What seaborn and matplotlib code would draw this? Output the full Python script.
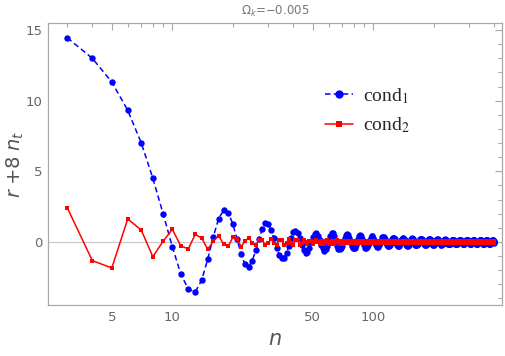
import pandas as pd
import matplotlib
matplotlib.use('Agg')
import matplotlib.pyplot as plt
import seaborn as sns
from matplotlib.ticker import NullFormatter

# n runs over the integers 3..400
n = list(range(3, 401))

# cond_1 (blue, dashed, circles)
cond1 = [
    14.46, 13.00, 11.32, 9.32, 7.03, 4.51, 2.00, -0.33, -2.24, -3.33,
    -3.54, -2.71, -1.22, 0.38, 1.65, 2.24, 2.07, 1.27, 0.19, -0.85,
    -1.58, -1.75, -1.32, -0.59, 0.20, 0.90, 1.32, 1.28, 0.85, 0.25,
    -0.40, -0.90, -1.15, -1.10, -0.75, -0.30, 0.25, 0.70, 0.78, 0.60,
    0.25, -0.20, -0.60, -0.80, -0.70, -0.40, 0.00, 0.35, 0.58, 0.62,
    0.45, 0.15, -0.18, -0.45,
    -0.62, -0.52, -0.26, 0.09, 0.40, 0.60, 0.60, 0.40, 0.09, -0.26, -0.52,
    -0.53, -0.46, -0.27, 0.00, 0.27, 0.46, 0.53, 0.46, 0.27, 0.00, -0.27, -0.46,
    -0.46, -0.40, -0.23, 0.00, 0.23, 0.40, 0.46, 0.40, 0.23, 0.00, -0.23, -0.40,
    -0.40, -0.36, -0.23, -0.05, 0.14, 0.30, 0.39, 0.39, 0.30, 0.14, -0.05, -0.23, -0.36,
    -0.35, -0.32, -0.22, -0.08, 0.08, 0.22, 0.32, 0.35, 0.32, 0.22, 0.08, -0.08, -0.22, -0.32,
    -0.31, -0.28, -0.19, -0.07, 0.07, 0.19, 0.28, 0.31, 0.28, 0.19, 0.07, -0.07, -0.19, -0.28,
    -0.28, -0.25, -0.19, -0.09, 0.03, 0.14, 0.23, 0.27, 0.27, 0.23, 0.14, 0.03, -0.09, -0.19, -0.25,
    -0.25, -0.23, -0.18, -0.10, 0.00, 0.10, 0.18, 0.23, 0.25, 0.23, 0.18, 0.10, 0.00, -0.10, -0.18, -0.23,
    -0.23, -0.21, -0.17, -0.10, -0.02, 0.06, 0.14, 0.20, 0.23, 0.23, 0.20, 0.14, 0.06, -0.02, -0.10, -0.17, -0.21,
    -0.21, -0.20, -0.16, -0.11, -0.04, 0.04, 0.11, 0.16, 0.20, 0.21, 0.20, 0.16, 0.11, 0.04, -0.04, -0.11, -0.16, -0.20,
    -0.19, -0.18, -0.15, -0.10, -0.05, 0.02, 0.08, 0.13, 0.17, 0.19, 0.19, 0.17, 0.13, 0.08, 0.02, -0.05, -0.10, -0.15, -0.18,
    -0.18, -0.17, -0.15, -0.11, -0.06, 0.00, 0.06, 0.11, 0.15, 0.17, 0.18, 0.17, 0.15, 0.11, 0.06, 0.00, -0.06, -0.11, -0.15, -0.17,
    -0.17, -0.16, -0.14, -0.11, -0.06, -0.01, 0.04, 0.09, 0.12, 0.15, 0.17, 0.17, 0.15, 0.12, 0.09, 0.04, -0.01, -0.06, -0.11, -0.14, -0.16,
    -0.16, -0.15, -0.13, -0.10, -0.07, -0.02, 0.02, 0.07, 0.10, 0.13, 0.15, 0.16, 0.15, 0.13, 0.10, 0.07, 0.02, -0.02, -0.07, -0.10, -0.13, -0.15,
    -0.15, -0.14, -0.13, -0.10, -0.07, -0.03, 0.01, 0.05, 0.09, 0.12, 0.14, 0.15, 0.15, 0.14, 0.12, 0.09, 0.05, 0.01, -0.03, -0.07, -0.10, -0.13, -0.14,
    -0.14, -0.14, -0.12, -0.10, -0.07, -0.04, 0.00, 0.04, 0.07, 0.10, 0.12, 0.14, 0.14, 0.14, 0.12, 0.10, 0.07, 0.04, 0.00, -0.04, -0.07, -0.10, -0.12, -0.14,
    -0.13, -0.13, -0.11, -0.09, -0.07, -0.04, -0.01, 0.02, 0.06, 0.08, 0.11, 0.12, 0.13, 0.13, 0.12, 0.11, 0.08, 0.06, 0.02, -0.01, -0.04, -0.07, -0.09, -0.11, -0.13,
    -0.12, -0.12, -0.11, -0.09, -0.07, -0.04, -0.01, 0.01, 0.04, 0.07, 0.09, 0.11, 0.12, 0.12, 0.12, 0.11, 0.09, 0.07, 0.04, 0.01, -0.01, -0.04, -0.07, -0.09, -0.11, -0.12,
    -0.11, -0.11, -0.10, -0.08, -0.06, -0.04, -0.01, 0.01, 0.04, 0.06, 0.08, 0.10, 0.11, 0.11, 0.11, 0.10, 0.08, 0.06, 0.04, 0.01, -0.01, -0.04,
]

# cond_2 (red, solid, squares)
cond2 = [
    2.43, -1.32, -1.84, 1.63, 0.85, -1.04, 0.05, 0.90, -0.26, -0.50,
    0.54, 0.28, -0.52, 0.05, 0.45, -0.16, -0.30, 0.33, 0.19, -0.33,
    0.05, 0.30, -0.06, -0.23, 0.16, 0.16, -0.23, -0.05,
    0.20, -0.04, -0.18, 0.13, 0.12, -0.18, -0.04,
    0.20, -0.04, -0.18, 0.13, 0.12, -0.18, -0.04,
    0.15, -0.03, -0.14, 0.09, 0.09, -0.14, -0.03,
    0.15, -0.03, -0.14, 0.09, 0.09, -0.14, -0.03,
    0.12, -0.03, -0.11, 0.08, 0.07, -0.11, -0.03,
    0.12, -0.03, -0.11, 0.08, 0.07, -0.11, -0.03,
    0.10, -0.02, -0.09, 0.06, 0.06, -0.09, -0.02,
    0.10, -0.02, -0.09, 0.06, 0.06, -0.09, -0.02,
    0.10, -0.02, -0.09, 0.06, 0.06, -0.09, -0.02,
    0.08, -0.02, -0.07, 0.05, 0.05, -0.07, -0.02,
    0.08, -0.02, -0.07, 0.05, 0.05, -0.07, -0.02,
    0.08, -0.02, -0.07, 0.05, 0.05, -0.07, -0.02,
    0.08, -0.02, -0.07, 0.05, 0.05, -0.07, -0.02,
    0.08, -0.02, -0.07, 0.05, 0.05, -0.07, -0.02,
    0.08, -0.02, -0.07, 0.05, 0.05, -0.07, -0.02,
    0.08, -0.02, -0.07, 0.05, 0.05, -0.07, -0.02,
    0.07, -0.02, -0.06, 0.04, 0.04, -0.06, -0.01,
    0.07, -0.02, -0.06, 0.04, 0.04, -0.06, -0.01,
    0.07, -0.02, -0.06, 0.04, 0.04, -0.06, -0.01,
    0.07, -0.02, -0.06, 0.04, 0.04, -0.06, -0.01,
    0.07, -0.02, -0.06, 0.04, 0.04, -0.06, -0.01,
    0.07, -0.02, -0.06, 0.04, 0.04, -0.06, -0.01,
    0.07, -0.02, -0.06, 0.04, 0.04, -0.06, -0.01,
    0.07, -0.02, -0.06, 0.04, 0.04, -0.06, -0.01,
    0.06, -0.01, -0.05, 0.04, 0.04, -0.05, -0.01,
    0.06, -0.01, -0.05, 0.04, 0.04, -0.05, -0.01,
    0.06, -0.01, -0.05, 0.04, 0.04, -0.05, -0.01,
    0.06, -0.01, -0.05, 0.04, 0.04, -0.05, -0.01,
    0.06, -0.01, -0.05, 0.04, 0.04, -0.05, -0.01,
    0.06, -0.01, -0.05, 0.04, 0.04, -0.05, -0.01,
    0.06, -0.01, -0.05, 0.04, 0.04, -0.05, -0.01,
    0.06, -0.01, -0.05, 0.04, 0.04, -0.05, -0.01,
    0.06, -0.01, -0.05, 0.04, 0.04, -0.05, -0.01,
    0.06, -0.01, -0.05, 0.04, 0.04, -0.05, -0.01,
    0.06, -0.01, -0.05, 0.04, 0.04, -0.05, -0.01,
    0.06, -0.01, -0.05, 0.04, 0.04, -0.05, -0.01,
    0.06, -0.01, -0.05, 0.04, 0.04, -0.05, -0.01,
    0.06, -0.01, -0.05, 0.04, 0.04, -0.05, -0.01,
    0.05, -0.01, -0.05, 0.03, 0.03, -0.05, -0.01,
    0.05, -0.01, -0.05, 0.03, 0.03, -0.05, -0.01,
    0.05, -0.01, -0.05, 0.03, 0.03, -0.05, -0.01,
    0.05, -0.01, -0.05, 0.03, 0.03, -0.05, -0.01,
    0.05, -0.01, -0.05, 0.03, 0.03, -0.05, -0.01,
    0.05, -0.01, -0.05, 0.03, 0.03, -0.05, -0.01,
    0.05, -0.01, -0.05, 0.03, 0.03, -0.05, -0.01,
    0.05, -0.01, -0.05, 0.03, 0.03, -0.05, -0.01,
    0.05, -0.01, -0.05, 0.03, 0.03, -0.05, -0.01,
    0.05, -0.01, -0.05, 0.03, 0.03, -0.05, -0.01,
    0.05, -0.01, -0.05, 0.03, 0.03, -0.05, -0.01,
    0.05, -0.01, -0.05, 0.03, 0.03, -0.05, -0.01,
    0.05, -0.01, -0.05, 0.03, 0.03, -0.05, -0.01,
    0.05, -0.01, -0.05, 0.03, 0.03, -0.05, -0.01,
    0.06, -0.01, -0.05, 0.04, 0.04, -0.05,
]

labels = ['cond$_1$', 'cond$_2$']
title = r'$\Omega_k$=−0.005'
x_major = [5, 10, 50, 100]
x_minor = [3, 4, 6, 7, 8, 9, 20, 30, 40, 60, 70, 80, 90, 200, 300, 400]
y_major = [0, 5, 10, 15]
y_minor = list(range(-4, 16))

df1 = pd.DataFrame({'n': n, 'v': cond1})
df2 = pd.DataFrame({'n': n, 'v': cond2})

sns.set_style('white')
fig, ax = plt.subplots(figsize=(5.06, 3.56), dpi=100)
fig.subplots_adjust(left=0.0955, right=0.992, bottom=0.1433, top=0.9346)

ax.axhline(0, color='#cccccc', lw=0.9, zorder=0)

sns.lineplot(data=df1, x='n', y='v', ax=ax, color='#0000ff', lw=1.1,
             linestyle=(0, (3.6, 2.2)), marker='o', markersize=4.6,
             markeredgewidth=0, markeredgecolor='#0000ff',
             label=labels[0], errorbar=None)
sns.lineplot(data=df2, x='n', y='v', ax=ax, color='#ff0000', lw=1.1,
             marker='s', markersize=3.0, markeredgewidth=0,
             markeredgecolor='#ff0000', label=labels[1], errorbar=None)

ax.set_xscale('log')
ax.set_xlim(2.416, 436.7)
ax.set_ylim(-4.46, 15.48)

ax.set_xticks(x_major, labels=[str(v) for v in x_major])
ax.set_xticks(x_minor, minor=True)
ax.xaxis.set_minor_formatter(NullFormatter())
ax.set_yticks(y_major, labels=[str(v) for v in y_major])
ax.set_yticks(y_minor, minor=True)

ax.tick_params(which='both', direction='in', top=True, right=True,
               color='#a8a8a8', width=0.8, labelcolor='#666666',
               labelsize=9.5, pad=4)
ax.tick_params(which='major', length=5)
ax.tick_params(which='minor', length=2.8)
for sp in ax.spines.values():
    sp.set_color('#a8a8a8')
    sp.set_linewidth(0.9)

ax.set_xlabel(r'$n$', fontsize=15, color='#555555', labelpad=4)
ax.set_ylabel(r'$r\;{+}8\;n_t$', fontsize=14, color='#555555')
ax.yaxis.set_label_coords(-0.049, 0.5)
ax.set_title(title, fontsize=8.5, color='#777777', pad=6)

ax.legend(loc='center left', bbox_to_anchor=(0.575, 0.69), frameon=False,
          prop={'family': 'Liberation Serif', 'size': 14,
                'math_fontfamily': 'stix'},
          handlelength=1.45, handletextpad=0.5, labelspacing=0.5,
          markerscale=1.3, borderpad=0.3)

fig.savefig('out.png', dpi=100)
